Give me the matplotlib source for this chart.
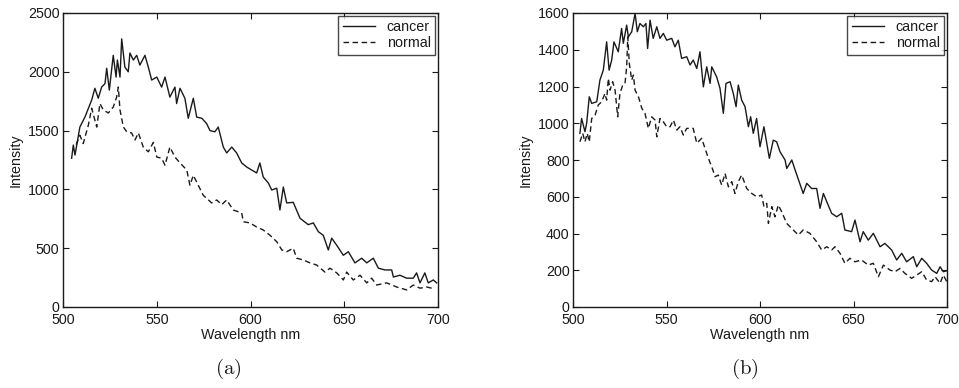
import matplotlib
matplotlib.use("Agg")
import matplotlib.pyplot as plt
import matplotlib.transforms as mtransforms
from matplotlib.ticker import MultipleLocator

# ---------------- data ----------------
a_cancer_nm = [504.6, 505.5, 506.4, 509, 511.7, 515.3, 517, 518.8, 520.6, 522.4,
               523.3, 524.7, 526.8, 528.3, 529, 530.4, 531.3, 533, 534.8, 535.7,
               537.5, 539.3, 541, 543.7, 545.5, 547.3, 550, 552.6, 554.4, 557,
               559.7, 560.6, 562.4, 565, 566.8, 569.5, 571.3, 574, 576.6, 578.4,
               581, 582.8, 585.5, 587.3, 590, 592.6, 595.3, 598, 600.6, 603.3,
               605, 606.8, 609.5, 611.3, 614, 615.7, 617.5, 619.3, 622.8, 626.4,
               630.8, 633.5, 636.2, 638.8, 641.5, 643.3, 646, 649.5, 652.2, 655.7,
               659.3, 662, 665.5, 668.2, 671.7, 675.3, 676.2, 679.7, 683.3, 686.8,
               688.6, 690.4, 693, 694.8, 697.5, 699.3]
a_cancer = [1265, 1377, 1292, 1530, 1615, 1760, 1860, 1775, 1870, 1900,
            2030, 1845, 2140, 1955, 2100, 1955, 2280, 2040, 2000, 2160,
            2100, 2140, 2057, 2140, 2040, 1930, 1955, 1870, 1955, 1785,
            1870, 1730, 1860, 1775, 1605, 1775, 1615, 1605, 1560, 1500,
            1490, 1530, 1360, 1310, 1360, 1310, 1225, 1190, 1165, 1140,
            1225, 1105, 1055, 995, 1010, 825, 1020, 885, 890, 755,
            700, 715, 640, 610, 485, 585, 525, 440, 470, 375,
            415, 375, 415, 330, 315, 315, 255, 270, 245, 245,
            290, 205, 290, 205, 230, 205]

a_normal_nm = [507, 509, 510.8, 513.5, 515.3, 518, 519.7, 521.5, 524.2, 526.8,
               528.6, 529.5, 530.4, 532.2, 534, 536.6, 538.4, 540.2, 542.8, 545.5,
               548.2, 550, 552.6, 554.4, 557, 559.7, 562.4, 566, 567.7, 569.5,
               574.8, 579.3, 582, 584.6, 587.3, 590.8, 595.3, 596.2, 599.7, 603.3,
               606.8, 610.4, 614, 616.7, 619.3, 622.8, 624.6, 628.2, 631.7, 635.3,
               639.7, 642.4, 646, 649.5, 651.3, 654.8, 658.4, 662, 664.6, 667.3,
               672.6, 678, 683.3, 686.8, 690.4, 694, 696.6]
a_normal = [1380, 1460, 1390, 1545, 1690, 1530, 1730, 1675, 1650, 1700,
            1785, 1870, 1675, 1530, 1490, 1480, 1420, 1480, 1360, 1320,
            1400, 1275, 1265, 1205, 1360, 1275, 1225, 1165, 1035, 1120,
            950, 885, 910, 870, 910, 825, 800, 725, 715, 680,
            655, 610, 555, 485, 470, 500, 415, 400, 375, 357,
            297, 330, 290, 230, 297, 230, 270, 205, 245, 187,
            205, 170, 145, 187, 160, 170, 160]

b_cancer_nm = [503.7, 504.6, 506.4, 507.3, 508.7, 510, 512.7, 514.4, 516.2, 518,
               519.3, 520.7, 521.9, 524.2, 526, 526.9, 528.7, 529.6, 531.4, 533.2,
               534.4, 535.8, 537.6, 539, 539.9, 541.2, 542.9, 544.8, 546.5, 548.3,
               550.1, 552.8, 554.5, 556.3, 558.1, 560.8, 562.6, 564.3, 566.2, 567.9,
               569.7, 571.5, 573.3, 574.2, 576.8, 578.6, 580.4, 581.8, 584, 585.7,
               587.2, 588.4, 590.2, 592, 593.8, 595, 596.4, 598.2, 600, 602.1,
               605, 607.1, 608.9, 610.7, 613.4, 614.3, 617, 618.8, 623.1, 625,
               627.6, 630.3, 632.1, 633.9, 635.7, 638.3, 641, 643.7, 645.4, 649,
               650.8, 653.5, 655.2, 657.9, 660.6, 664.2, 666.8, 670.4, 673.1, 675.8,
               678.4, 682, 683.8, 686.5, 689.1, 691.8, 694.5, 696.3, 698, 699.9]
b_cancer = [945, 1026, 954, 999, 1144, 1108, 1117, 1235, 1289, 1443,
            1289, 1344, 1443, 1389, 1516, 1435, 1534, 1470, 1498, 1598,
            1498, 1543, 1525, 1543, 1407, 1561, 1462, 1525, 1462, 1489,
            1452, 1462, 1416, 1452, 1353, 1362, 1317, 1344, 1298, 1389,
            1198, 1307, 1217, 1307, 1253, 1190, 1054, 1217, 1226, 1163,
            1090, 1208, 1126, 1090, 981, 1035, 945, 1026, 872, 981,
            809, 908, 899, 845, 800, 754, 800, 745, 618, 673,
            645, 645, 537, 618, 573, 510, 491, 510, 419, 410,
            473, 355, 410, 364, 401, 328, 346, 310, 256, 292,
            246, 274, 219, 265, 238, 201, 183, 219, 192, 197]

b_normal_nm = [503.7, 505.2, 506.4, 507.6, 508.7, 510, 511.8, 513.5, 515.3, 517.1,
               518, 518.9, 519.8, 521.2, 522.5, 523.9, 525.1, 526.6, 527.8, 528.7,
               529.3, 530.1, 531.4, 532.3, 533.2, 535, 536.8, 538.5, 540.3, 542.1,
               543.9, 544.8, 546.5, 548.3, 550.1, 551.9, 553.7, 555.5, 557.2, 559,
               560.8, 562.6, 564.3, 566.2, 568.8, 570.6, 572.4, 574.2, 576, 577.7,
               579.5, 581.3, 583.1, 584.9, 586.6, 588.4, 590.2, 592.9, 595.6, 598.2,
               600.9, 602.1, 603.6, 604.5, 606.3, 608, 609.8, 611.6, 614.3, 617.8,
               620.5, 623.1, 626.7, 630.3, 633, 635.7, 638.3, 640.1, 642.8, 645.4,
               648.1, 650.8, 654.3, 657.9, 660.6, 663.3, 666, 669.5, 672.2, 674.9,
               677.5, 681.1, 683.8, 686.5, 689.1, 691.8, 693.6, 696.3, 698, 699.9]
b_normal = [899, 945, 899, 945, 899, 1026, 1044, 1099, 1117, 1162,
            1126, 1244, 1180, 1226, 1180, 1035, 1162, 1208, 1217, 1307,
            1470, 1326, 1235, 1262, 1180, 1144, 1081, 1054, 972, 1035,
            1017, 926, 1026, 1008, 981, 981, 1017, 963, 981, 936,
            972, 972, 972, 891, 918, 863, 809, 763, 709, 718,
            664, 727, 654, 682, 618, 682, 718, 645, 618, 600,
            609, 546, 564, 455, 546, 491, 555, 518, 455, 419,
            392, 419, 401, 355, 310, 328, 310, 328, 292, 238,
            265, 246, 256, 228, 238, 165, 228, 201, 192, 210,
            183, 156, 174, 192, 147, 138, 165, 129, 174, 138]

series_labels = ["cancer", "normal"]
x_label = "Wavelength nm"
y_label = "Intensity"
captions = ["(a)", "(b)"]

# ---------------- plot ----------------
plt.rcParams["font.family"] = ["Liberation Sans", "DejaVu Sans"]
plt.rcParams["mathtext.fontset"] = "cm"
ink = "#1a1a1a"
fs = 10.3

fig = plt.figure(figsize=(9.59, 3.88), dpi=100)
W, H = 959, 388
boxes = [(63, 13, 438, 307), (573, 13, 947, 307)]
panels = [
    (a_cancer_nm, a_cancer, a_normal_nm, a_normal, 2500, 500),
    (b_cancer_nm, b_cancer, b_normal_nm, b_normal, 1600, 200),
]
caption_x = [228, 745]

for (l, t, r, b), (cx, cy, nx, ny, ymax, ystep), cap, capx in zip(boxes, panels, captions, caption_x):
    ax = fig.add_axes([l / W, 1 - b / H, (r - l) / W, (b - t) / H])
    ax.plot(cx, cy, color=ink, lw=1.0, ls="-", label=series_labels[0])
    ax.plot(nx, ny, color=ink, lw=1.0, ls=(0, (4, 2.5)), label=series_labels[1])
    ax.set_xlim(500, 700)
    ax.set_ylim(0, ymax)
    ax.xaxis.set_major_locator(MultipleLocator(50))
    ax.yaxis.set_major_locator(MultipleLocator(ystep))
    ax.tick_params(direction="in", top=True, right=True, length=4.5, width=0.8,
                   labelsize=fs, colors=ink)
    ax.tick_params(axis="y", pad=2.5)
    ax.tick_params(axis="x", pad=4.5)
    for s in ax.spines.values():
        s.set_linewidth(1.0)
        s.set_color(ink)
    ax.set_xlabel(x_label, fontsize=fs, color=ink, labelpad=0.5)
    ax.set_ylabel(y_label, fontsize=fs, color=ink, labelpad=4)
    # nudge the bottom "0" y-label up slightly so it sits just above the "500" x-label
    fig.canvas.draw()
    ylabs = ax.get_yticklabels()
    if ylabs:
        off = mtransforms.ScaledTranslation(0, 2.5 / 72, fig.dpi_scale_trans)
        ylabs[0].set_transform(ylabs[0].get_transform() + off)
    leg = ax.legend(loc="upper right", fontsize=fs, frameon=True, fancybox=False,
                    edgecolor=ink, borderaxespad=0.2, borderpad=0.3,
                    labelspacing=0.15, handlelength=2.3, handletextpad=0.8)
    leg.get_frame().set_linewidth(1.0)
    for txt in leg.get_texts():
        txt.set_color(ink)
    fig.text(capx / W, 1 - 369 / H, r"$\mathrm{" + cap + "}$", fontsize=15,
             ha="center", va="center", color=ink)

fig.savefig("out.png", dpi=100)
